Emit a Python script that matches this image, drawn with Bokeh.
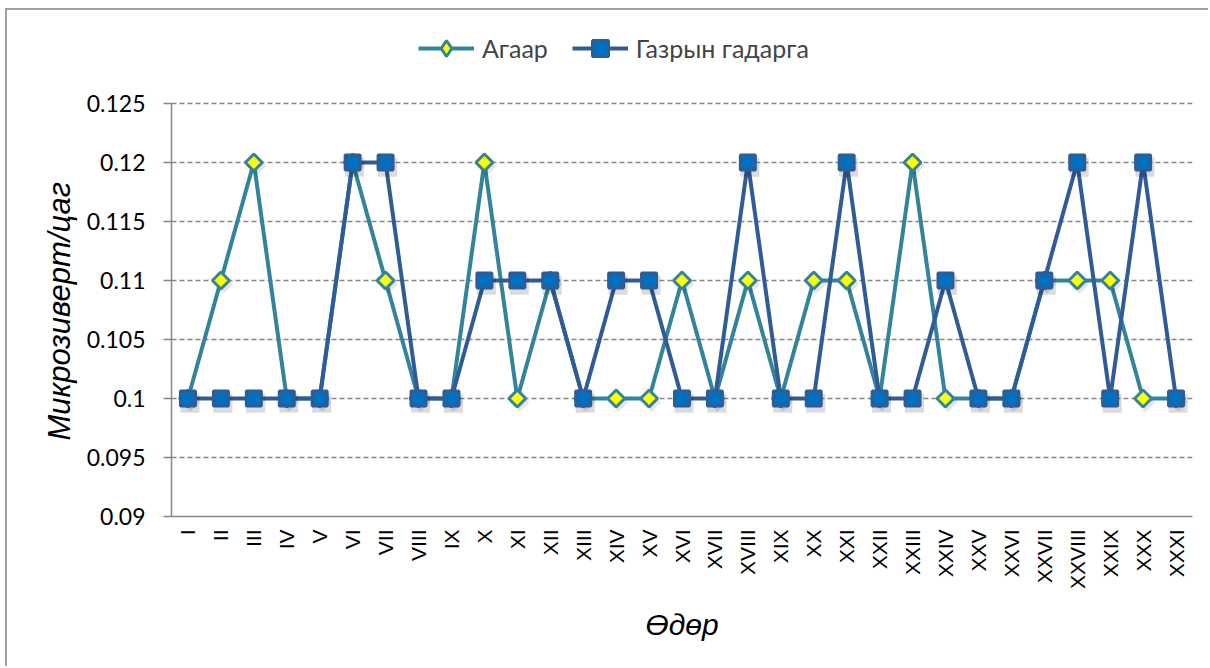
import math
from bokeh.plotting import figure
from bokeh.models import (FactorRange, Range1d, FixedTicker, CustomJSTickFormatter,
                          Legend, LegendItem, ColumnDataSource, Title)
from bokeh.transform import dodge
from bokeh.embed import file_html
from bokeh.resources import INLINE

days = ["I", "II", "III", "IV", "V", "VI", "VII", "VIII", "IX", "X",
        "XI", "XII", "XIII", "XIV", "XV", "XVI", "XVII", "XVIII", "XIX", "XX",
        "XXI", "XXII", "XXIII", "XXIV", "XXV", "XXVI", "XXVII", "XXVIII", "XXIX", "XXX", "XXXI"]
agaar = [0.10, 0.11, 0.12, 0.10, 0.10, 0.12, 0.11, 0.10, 0.10, 0.12,
         0.10, 0.11, 0.10, 0.10, 0.10, 0.11, 0.10, 0.11, 0.10, 0.11,
         0.11, 0.10, 0.12, 0.10, 0.10, 0.10, 0.11, 0.11, 0.11, 0.10, 0.10]
gazar = [0.10, 0.10, 0.10, 0.10, 0.10, 0.12, 0.12, 0.10, 0.10, 0.11,
         0.11, 0.11, 0.10, 0.11, 0.11, 0.10, 0.10, 0.12, 0.10, 0.10,
         0.12, 0.10, 0.10, 0.11, 0.10, 0.10, 0.11, 0.12, 0.10, 0.12, 0.10]
y_ticks = [0.09, 0.095, 0.1, 0.105, 0.11, 0.115, 0.12, 0.125]
y_min, y_max = 0.09, 0.125
series_names = ["Агаар", "Газрын гадарга"]
y_title = "Микрозиверт/цаг"
x_title = "Өдөр"

TEAL = "#31849B"
DARK = "#2F5C96"
GRID = "#868686"

# layout: frame reaches up to the canvas top so the legend can sit above the value axis
FRAME_H = 506          # px, whole frame
AXIS_H = 413           # px, part of frame used by the 0.09..0.125 axis
y_range_top = y_min + (y_max - y_min) * FRAME_H / AXIS_H

src = ColumnDataSource(dict(day=days, agaar=agaar, gazar=gazar))

p = figure(width=1203, height=658, x_range=FactorRange(*days),
           y_range=Range1d(y_min, y_range_top),
           output_backend="svg", toolbar_location=None,
           min_border_left=164, min_border_right=18, min_border_top=0, min_border_bottom=152)
p.margin = (8, 0, 0, 5)
p.styles = {"border-top": "2px solid #a0a0a0", "border-left": "2px solid #a0a0a0"}
p.x_range.range_padding = 0
p.outline_line_color = None
p.background_fill_color = "white"
p.border_fill_color = "white"

# grid
p.xgrid.grid_line_color = None
p.ygrid.grid_line_color = GRID
p.ygrid.grid_line_dash = "5 3"
p.ygrid.grid_line_width = 1.5
p.yaxis.ticker = FixedTicker(ticks=y_ticks)

# y axis
p.yaxis.bounds = (y_min, y_max)
p.yaxis.formatter = CustomJSTickFormatter(code="return String(parseFloat(tick.toFixed(3)));")
p.yaxis.axis_line_color = GRID
p.yaxis.axis_line_width = 1.5
p.yaxis.major_tick_line_color = GRID
p.yaxis.major_tick_line_width = 1.5
p.yaxis.major_tick_out = 8
p.yaxis.major_tick_in = 0
p.yaxis.minor_tick_line_color = None
p.yaxis.major_label_standoff = 18
p.yaxis.major_label_text_font = "Lato"
p.yaxis.major_label_text_font_size = "23px"
p.yaxis.major_label_text_color = "black"

# y axis title, centred on the value axis part of the frame
ytitle = Title(text=y_title, align="left", offset=76, standoff=14,
               text_font="Liberation Sans", text_font_style="italic",
               text_font_size="31px", text_color="black")
p.add_layout(ytitle, "left")

# x axis
p.xaxis.axis_line_color = GRID
p.xaxis.axis_line_width = 1.5
p.xaxis.major_tick_line_color = None
p.xaxis.major_tick_out = 0
p.xaxis.minor_tick_line_color = None
p.xaxis.major_label_orientation = math.pi / 2
p.xaxis.major_label_standoff = 13
p.xaxis.major_label_text_font = "Liberation Sans"
p.xaxis.major_label_text_font_size = "21px"
p.xaxis.major_label_text_color = "black"
p.xaxis.axis_label = x_title
p.xaxis.axis_label_text_font = "Liberation Sans"
p.xaxis.axis_label_text_font_style = "italic"
p.xaxis.axis_label_text_font_size = "30px"
p.xaxis.axis_label_text_color = "black"
p.xaxis.axis_label_standoff = 16

# series
l1 = p.line("day", "agaar", source=src, line_color=TEAL, line_width=4)
p.scatter(dodge("day", 0.07, range=p.x_range), dodge("agaar", -0.0003), source=src,
          marker="square", angle=math.pi / 4, size=14, fill_color="black", fill_alpha=0.10,
          line_color=None)
m1 = p.scatter("day", "agaar", source=src, marker="square", angle=math.pi / 4, size=12,
               fill_color="#FFFF00", line_color=TEAL, line_width=3)
l2 = p.line("day", "gazar", source=src, line_color=DARK, line_width=4)
p.scatter(dodge("day", 0.06, range=p.x_range), dodge("gazar", -0.0004), source=src,
          marker="square", size=19, fill_color="black", fill_alpha=0.14, line_color=None)
m2 = p.scatter("day", "gazar", source=src, marker="square", size=15,
               fill_color="#0070C0", line_color=DARK, line_width=3)

# legend-only diamond swatch (not plotted: its value is NaN), since swatches ignore marker angle
key_src = ColumnDataSource(dict(day=[days[0]], v=[float("nan")]))
key1 = p.scatter("day", "v", source=key_src, marker="diamond", size=16,
                 fill_color="#FFFF00", line_color=TEAL, line_width=3)

legend = Legend(items=[LegendItem(label=series_names[0], renderers=[l1, key1]),
                       LegendItem(label=series_names[1], renderers=[l2, m2])],
                location=(247, 448), orientation="horizontal",
                border_line_color=None, background_fill_alpha=0,
                label_text_font="Lato", label_text_font_size="25px",
                glyph_width=56, glyph_height=40, label_standoff=8, spacing=24,
                label_height=40, padding=0, margin=0)
p.add_layout(legend, "center")

open("out.html", "w").write(file_html(p, INLINE))
